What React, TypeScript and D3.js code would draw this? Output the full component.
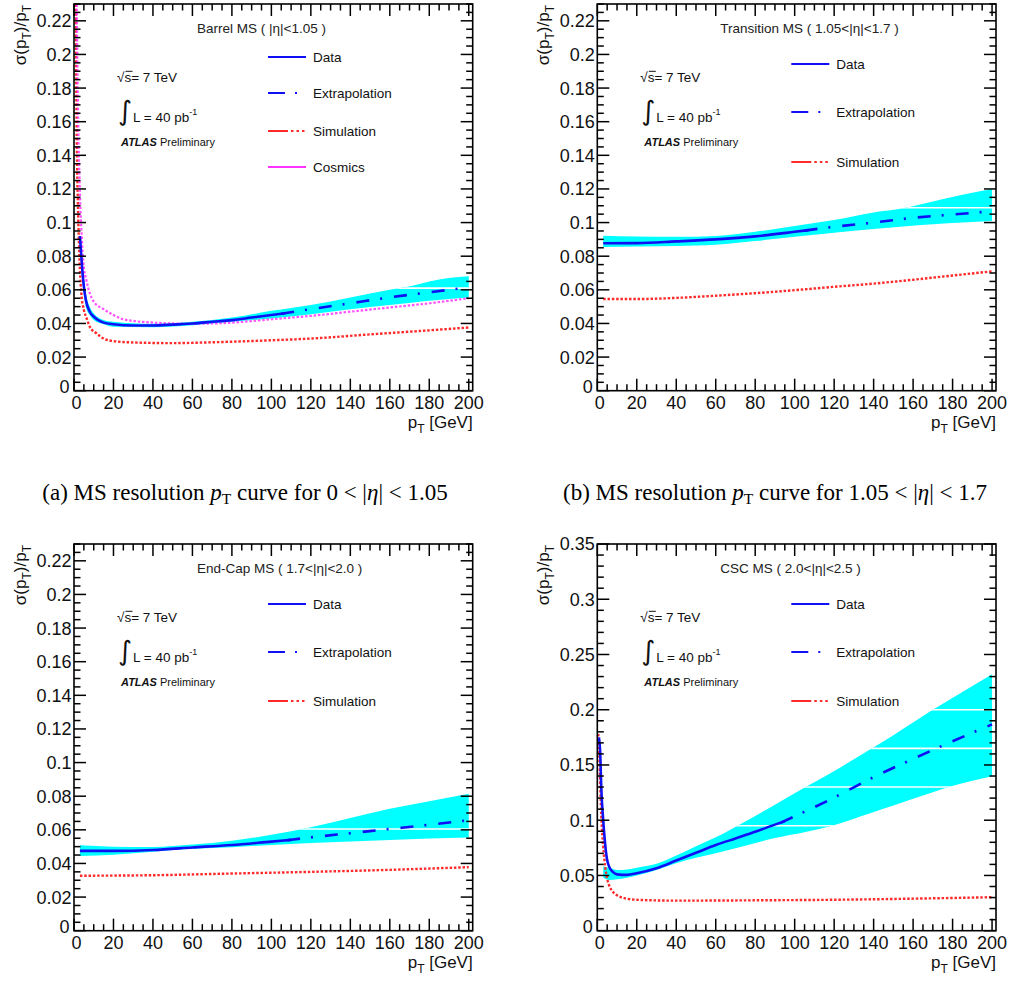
import React from "react";
import * as d3 from "d3";

type Pt = [number, number];
type BandPt = [number, number, number];

// ---------- Panel (a) Barrel MS ----------
const barrelData: Pt[] = [[3, 0.092], [4, 0.075], [5, 0.062], [6, 0.054], [8, 0.047], [10, 0.044], [15, 0.0405], [20, 0.0395], [30, 0.0388], [40, 0.0388], [50, 0.0393], [60, 0.04], [70, 0.041], [80, 0.042], [90, 0.0435], [100, 0.045], [107, 0.0461]];
const barrelExtrap: Pt[] = [[105, 0.0458], [120, 0.0485], [140, 0.052], [160, 0.0555], [180, 0.0585], [200, 0.0615]];
const barrelSim: Pt[] = [[0.8, 0.24], [1.5, 0.14], [2, 0.11], [3, 0.072], [3.7, 0.058], [5, 0.048], [6.4, 0.043], [8, 0.038], [11.5, 0.034], [15, 0.031], [20, 0.0295], [30, 0.0287], [50, 0.0283], [70, 0.0288], [100, 0.03], [120, 0.031], [150, 0.0335], [175, 0.0355], [200, 0.0376]];
const barrelCosmics: Pt[] = [[1.3, 0.24], [2, 0.17], [3, 0.118], [4, 0.09], [4.7, 0.077], [6.4, 0.065], [8, 0.058], [10, 0.053], [15, 0.0485], [20, 0.045], [25, 0.0425], [30, 0.0415], [40, 0.0405], [50, 0.04], [60, 0.0398], [80, 0.0405], [100, 0.0425], [120, 0.0445], [140, 0.047], [160, 0.0495], [180, 0.052], [200, 0.055]];
const barrelBand: BandPt[] = [[3.5, 0.074, 0.092], [4, 0.068, 0.082], [5, 0.057, 0.067], [6, 0.05, 0.058], [8, 0.045, 0.05], [10, 0.042, 0.046], [15, 0.0395, 0.042], [20, 0.038, 0.041], [40, 0.0378, 0.0398], [60, 0.039, 0.041], [80, 0.041, 0.0435], [100, 0.043, 0.0475], [120, 0.0455, 0.051], [140, 0.0485, 0.0555], [160, 0.051, 0.06], [172, 0.0525, 0.0625], [180, 0.0535, 0.065], [200, 0.0555, 0.068]];
const barrelGaps = [0.061];

// ---------- Panel (b) Transition MS ----------
const transData: Pt[] = [[3, 0.0877], [20, 0.0878], [40, 0.0888], [60, 0.09], [80, 0.0918], [100, 0.0945], [107, 0.0955]];
const transExtrap: Pt[] = [[105, 0.0952], [120, 0.0975], [140, 0.1], [160, 0.1028], [180, 0.1048], [200, 0.1067]];
const transSim: Pt[] = [[3, 0.0545], [20, 0.0545], [40, 0.0552], [60, 0.0565], [80, 0.058], [100, 0.0598], [120, 0.0618], [140, 0.0637], [160, 0.066], [180, 0.0685], [200, 0.071]];
const transBand: BandPt[] = [[3, 0.0855, 0.0922], [20, 0.0857, 0.0917], [40, 0.086, 0.0915], [60, 0.0868, 0.092], [80, 0.089, 0.0945], [100, 0.0915, 0.098], [120, 0.094, 0.1015], [140, 0.0962, 0.106], [155, 0.0977, 0.1085], [170, 0.099, 0.1125], [185, 0.1, 0.1165], [200, 0.101, 0.12]];
const transGaps = [0.1088];

// ---------- Panel (c) End-Cap MS ----------
const endcapData: Pt[] = [[3, 0.0475], [20, 0.0475], [40, 0.048], [60, 0.0495], [80, 0.051], [100, 0.053], [110, 0.054]];
const endcapExtrap: Pt[] = [[108, 0.0538], [120, 0.0555], [140, 0.058], [160, 0.0605], [180, 0.063], [200, 0.0657]];
const endcapSim: Pt[] = [[3, 0.0327], [40, 0.033], [80, 0.034], [120, 0.035], [160, 0.0362], [200, 0.0378]];
const endcapBand: BandPt[] = [[3, 0.0445, 0.0508], [20, 0.0452, 0.05], [40, 0.047, 0.0498], [60, 0.0487, 0.0512], [80, 0.0497, 0.0535], [100, 0.051, 0.057], [120, 0.0522, 0.0615], [140, 0.053, 0.067], [160, 0.054, 0.0725], [180, 0.0548, 0.077], [200, 0.0555, 0.0815]];
const endcapGaps = [0.0605];

// ---------- Panel (d) CSC MS ----------
const cscData: Pt[] = [[0.8, 0.175], [1.5, 0.16], [2, 0.13], [3, 0.1], [4, 0.078], [5, 0.064], [6, 0.058], [8, 0.053], [10, 0.051], [15, 0.0505], [20, 0.052], [30, 0.0565], [40, 0.0635], [50, 0.0705], [60, 0.0775], [70, 0.0835], [80, 0.0895], [90, 0.096], [95, 0.099]];
const cscExtrap: Pt[] = [[93, 0.0978], [120, 0.1205], [140, 0.139], [160, 0.1555], [180, 0.1715], [200, 0.1867]];
const cscSim: Pt[] = [[0.5, 0.178], [1, 0.16], [1.5, 0.13], [2, 0.105], [3, 0.076], [4, 0.058], [5, 0.047], [6, 0.041], [8, 0.035], [10, 0.032], [15, 0.029], [20, 0.028], [40, 0.0272], [80, 0.0275], [120, 0.028], [160, 0.029], [200, 0.0303]];
const cscBand: BandPt[] = [[3, 0.048, 0.058], [6, 0.046, 0.057], [10, 0.0465, 0.055], [15, 0.048, 0.0555], [20, 0.05, 0.057], [30, 0.055, 0.0605], [40, 0.061, 0.068], [50, 0.066, 0.0765], [60, 0.07, 0.0845], [72, 0.0755, 0.096], [90, 0.0838, 0.114], [106, 0.0895, 0.1305], [119, 0.095, 0.1435], [139, 0.1068, 0.165], [150, 0.1133, 0.177], [170, 0.1252, 0.2], [178, 0.13, 0.2085], [200, 0.1398, 0.232]];
const cscGaps = [0.095, 0.13, 0.165, 0.2];

// ---------- Axes / labels ----------
const xMax = 202;
const xMajorStep = 20;
const xMinorStep = 5;
const titles = ["Barrel MS ( |η|<1.05 )", "Transition MS ( 1.05<|η|<1.7 )", "End-Cap MS ( 1.7<|η|<2.0 )", "CSC MS ( 2.0<|η|<2.5 )"];
const yMaxes = [0.23, 0.23, 0.23, 0.35];
const yMajorSteps = [0.02, 0.02, 0.02, 0.05];
const yMinorSteps = [0.005, 0.005, 0.005, 0.01];
const legendLabels = ["Data", "Extrapolation", "Simulation", "Cosmics"];
const captionA = ["(a) MS resolution ", " curve for 0 < |", "| < 1.05"];
const captionB = ["(b) MS resolution ", " curve for 1.05 < |", "| < 1.7"];

const BLUE = "#1010f5";
const RED = "#ff2a2a";
const MAGENTA = "#ff33ff";
const CYAN = "#00ffff";
const SANS = "'Liberation Sans', Arial, Helvetica, sans-serif";
const SERIF = "'Liberation Serif', 'Times New Roman', serif";

interface PanelCfg {
  id: string;
  title: string;
  yMax: number;
  yMajor: number;
  yMinor: number;
  data: Pt[];
  extrap: Pt[];
  sim: Pt[];
  cosmics?: Pt[];
  band: BandPt[];
  gaps: number[];
  legendOffsets: number[];
}

const panels: PanelCfg[] = [
  { id: "a", title: titles[0], yMax: yMaxes[0], yMajor: yMajorSteps[0], yMinor: yMinorSteps[0], data: barrelData, extrap: barrelExtrap, sim: barrelSim, cosmics: barrelCosmics, band: barrelBand, gaps: barrelGaps, legendOffsets: [53, 89, 127, 163] },
  { id: "b", title: titles[1], yMax: yMaxes[1], yMajor: yMajorSteps[1], yMinor: yMinorSteps[1], data: transData, extrap: transExtrap, sim: transSim, band: transBand, gaps: transGaps, legendOffsets: [60, 108, 158] },
  { id: "c", title: titles[2], yMax: yMaxes[2], yMajor: yMajorSteps[2], yMinor: yMinorSteps[2], data: endcapData, extrap: endcapExtrap, sim: endcapSim, band: endcapBand, gaps: endcapGaps, legendOffsets: [60, 108, 157] },
  { id: "d", title: titles[3], yMax: yMaxes[3], yMajor: yMajorSteps[3], yMinor: yMinorSteps[3], data: cscData, extrap: cscExtrap, sim: cscSim, band: cscBand, gaps: cscGaps, legendOffsets: [60, 108, 157] },
];

const W = 398.7;
const H = 386.7;

function fmt(v: number) {
  return String(+v.toFixed(3));
}

function Panel({ cfg, left, top }: { cfg: PanelCfg; left: number; top: number }) {
  const x = d3.scaleLinear().domain([0, xMax]).range([left, left + W]);
  const y = d3.scaleLinear().domain([0, cfg.yMax]).range([top + H, top]);
  const line = d3.line<Pt>().x((d) => x(d[0])).y((d) => y(d[1])).curve(d3.curveMonotoneX);
  const area = d3
    .area<BandPt>()
    .x((d) => x(d[0]))
    .y0((d) => y(d[1]))
    .y1((d) => y(d[2]))
    .curve(d3.curveMonotoneX);

  const yMajors = d3.range(0, cfg.yMax + 1e-9, cfg.yMajor).map((v) => +v.toFixed(4));
  const yMinors = d3.range(0, cfg.yMax + 1e-9, cfg.yMinor).map((v) => +v.toFixed(4));
  const xMajors = d3.range(0, 200 + 1e-9, xMajorStep);
  const xMinors = d3.range(0, 200 + 1e-9, xMinorStep);
  const majL = 12;
  const minL = 6.5;
  const bandPath = area(cfg.band) || "";
  const clipId = `clip-${cfg.id}`;
  const bandClipId = `bandclip-${cfg.id}`;

  const legend = [
    { label: legendLabels[0], color: BLUE, dash: "none" },
    { label: legendLabels[1], color: BLUE, dash: "17,10,2,12" },
    { label: legendLabels[2], color: RED, dash: "20,3,2.5,3,2.5,3,2.5" },
  ];
  if (cfg.cosmics) legend.push({ label: legendLabels[3], color: MAGENTA, dash: "none" });

  const lx0 = left + 194;
  const lx1 = left + 232;
  const tx = left + 239;

  return (
    <g>
      <defs>
        <clipPath id={clipId}>
          <rect x={left} y={top} width={W} height={H} />
        </clipPath>
        <clipPath id={bandClipId}>
          <path d={bandPath} />
        </clipPath>
      </defs>

      <g clipPath={`url(#${clipId})`}>
        <path d={bandPath} fill={CYAN} stroke="none" />
        <g clipPath={`url(#${bandClipId})`}>
          {cfg.gaps.map((g, i) => (
            <line key={i} x1={left} x2={left + W} y1={y(g)} y2={y(g)} stroke="#fff" strokeWidth={1.6} />
          ))}
        </g>
        <path d={line(cfg.sim) || ""} fill="none" stroke={RED} strokeWidth={2.4} strokeDasharray="2.5,1.8" />
        {cfg.cosmics && (
          <path d={line(cfg.cosmics) || ""} fill="none" stroke={MAGENTA} strokeWidth={2.2} strokeDasharray="2.5,1.8" opacity={0.85} />
        )}
        <path d={line(cfg.data) || ""} fill="none" stroke={BLUE} strokeWidth={2.6} />
        <path d={line(cfg.extrap) || ""} fill="none" stroke={BLUE} strokeWidth={2.6} strokeDasharray="13,11,2,12" />
      </g>

      {/* frame */}
      <rect x={left} y={top} width={W} height={H} fill="none" stroke="#000" strokeWidth={1.6} />

      {/* y ticks */}
      {yMinors.map((v, i) => {
        const isMaj = yMajors.some((m) => Math.abs(m - v) < 1e-6);
        const L = isMaj ? majL : minL;
        return (
          <g key={"ym" + i}>
            <line x1={left} x2={left + L} y1={y(v)} y2={y(v)} stroke="#000" strokeWidth={1.5} />
            <line x1={left + W} x2={left + W - L} y1={y(v)} y2={y(v)} stroke="#000" strokeWidth={1.5} />
          </g>
        );
      })}
      {/* x ticks */}
      {xMinors.map((v, i) => {
        const isMaj = v % xMajorStep === 0;
        const L = isMaj ? majL : minL;
        return (
          <g key={"xm" + i}>
            <line x1={x(v)} x2={x(v)} y1={top + H} y2={top + H - L} stroke="#000" strokeWidth={1.5} />
            <line x1={x(v)} x2={x(v)} y1={top} y2={top + L} stroke="#000" strokeWidth={1.5} />
          </g>
        );
      })}

      {/* tick labels */}
      {yMajors.map((v, i) => (
        <text key={"yl" + i} x={left - (v === 0 ? 4.5 : 2.5)} y={y(v) - (v === 0 ? 4 : 0)} dy="0.36em" textAnchor="end" fontFamily={SANS} fontSize={18} fill="#111">
          {fmt(v)}
        </text>
      ))}
      {xMajors.map((v, i) => (
        <text key={"xl" + i} x={x(v) + (v === 0 ? 2.5 : 0)} y={top + H + 18} textAnchor="middle" fontFamily={SANS} fontSize={18} fill="#111">
          {fmt(v)}
        </text>
      ))}

      {/* axis titles */}
      <text x={left + W} y={top + H + 37.5} textAnchor="end" fontFamily={SANS} fontSize={17} fill="#111">
        p<tspan fontSize={12} dy={5}>T</tspan>
        <tspan dy={-5}> [GeV]</tspan>
      </text>
      <text transform={`translate(${left - 48},${top + 1}) rotate(-90)`} textAnchor="end" fontFamily={SANS} fontSize={17} fill="#111">
        σ(p<tspan fontSize={12} dy={5}>T</tspan>
        <tspan dy={-5}>)/p</tspan>
        <tspan fontSize={12} dy={5}>T</tspan>
      </text>

      {/* panel title */}
      <text x={left + 123} y={top + 29} fontFamily={SANS} fontSize={13.5} fill="#222">
        {cfg.title}
      </text>

      {/* energy / lumi / ATLAS */}
      <text x={left + 43} y={top + 78} fontFamily={SANS} fontSize={13.5} fill="#111">
        √s= 7 TeV
      </text>
      <line x1={left + 51.5} x2={left + 58.5} y1={top + 67.3} y2={top + 67.3} stroke="#111" strokeWidth={1} />
      <text x={left + 44} y={top + 116} fontFamily="'DejaVu Sans', sans-serif" fontSize={27} fill="#111">
        ∫
      </text>
      <text x={left + 59} y={top + 118} fontFamily={SANS} fontSize={13.5} fill="#111">
        L = 40 pb<tspan fontSize={9} dy={-7}>-1</tspan>
      </text>
      <text x={left + 47} y={top + 142} fontFamily={SANS} fontSize={11} fill="#111">
        <tspan fontWeight="bold" fontStyle="italic">ATLAS</tspan> Preliminary
      </text>

      {/* legend */}
      {legend.map((e, i) => {
        const ly = top + cfg.legendOffsets[i];
        return (
          <g key={"lg" + i}>
            <line x1={lx0} x2={lx1} y1={ly} y2={ly} stroke={e.color} strokeWidth={2.2} strokeDasharray={e.dash} />
            <text x={tx} y={ly + 5} fontFamily={SANS} fontSize={13.5} fill="#111">
              {e.label}
            </text>
          </g>
        );
      })}
    </g>
  );
}

function Caption({ cx, parts }: { cx: number; parts: string[] }) {
  return (
    <text x={cx} y={500} textAnchor="middle" fontFamily={SERIF} fontSize={23} fill="#000">
      {parts[0]}
      <tspan fontStyle="italic">p</tspan>
      <tspan fontSize={15.5} dy={4}>T</tspan>
      <tspan dy={-4}>{parts[1]}</tspan>
      <tspan fontStyle="italic">η</tspan>
      {parts[2]}
    </text>
  );
}

export default function App() {
  return (
    <svg width={1015} height={985} style={{ position: "absolute", left: 0, top: 0, background: "#fff" }}>
      <rect x={0} y={0} width={1015} height={985} fill="#fff" />
      <Panel cfg={panels[0]} left={74} top={4} />
      <Panel cfg={panels[1]} left={597.3} top={4} />
      <Panel cfg={panels[2]} left={74} top={544} />
      <Panel cfg={panels[3]} left={597.3} top={544} />
      <Caption cx={245} parts={captionA} />
      <Caption cx={775} parts={captionB} />
    </svg>
  );
}
